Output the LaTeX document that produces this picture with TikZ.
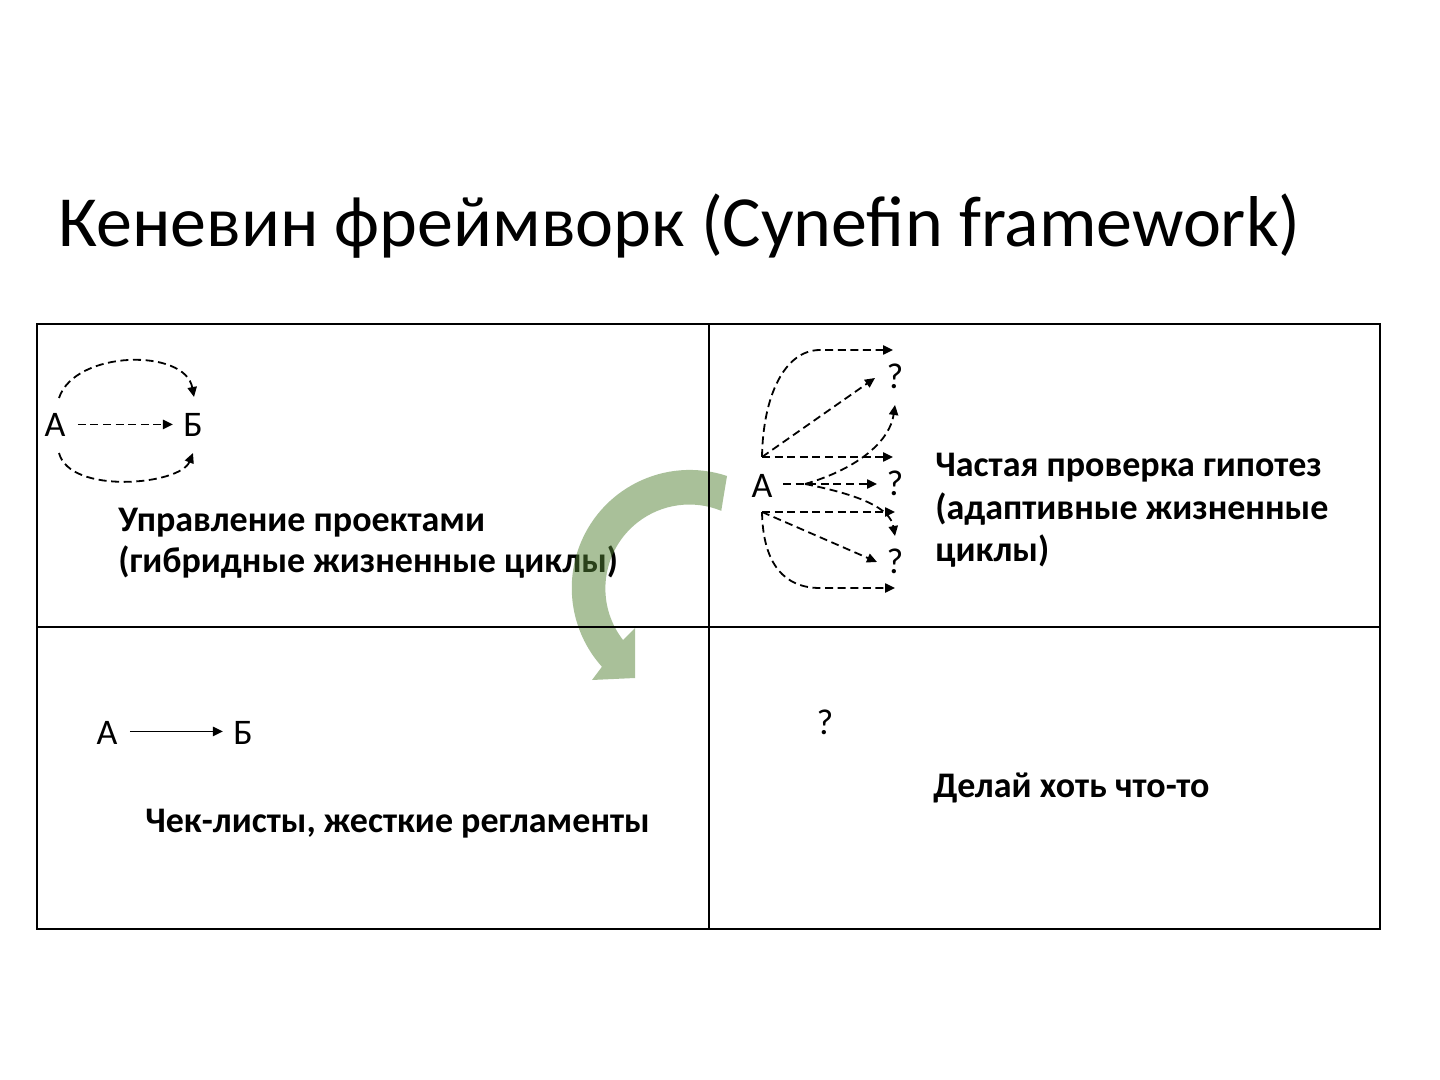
\documentclass[tikz,border=0pt]{standalone}
\usepackage{fontspec}
\setmainfont{Carlito}
\usetikzlibrary{arrows.meta}
\definecolor{cyngreen}{HTML}{548235}
\begin{document}
\begin{tikzpicture}[x=0.5pt,y=-0.5pt,
  lbl/.style={inner sep=0pt, font=\fontsize{18}{20}\selectfont, anchor=base},
  txt/.style={inner sep=0pt, font=\bfseries\fontsize{18}{22}\selectfont, anchor=base west},
  tip/.style={-{Triangle[length=5pt,width=4.6pt]}},
  dsh/.style={line width=0.9pt, dash pattern=on 4pt off 2.3pt, tip},
  sld/.style={line width=0.9pt, tip},
  gridline/.style={line width=1pt}]
\useasboundingbox (0,0) rectangle (1440,1080);
\fill[white] (0,0) rectangle (1440,1080);

% title
\node[inner sep=0pt, anchor=base west, font=\fontsize{36}{40}\selectfont] (title) at (58,247) {Кеневин фреймворк (Cynefin framework)};

% quadrant texts
\node[txt] (t1a) at (118,531) {Управление проектами};
\node[txt] (t1b) at (118,572) {(гибридные жизненные циклы)};
\node[txt] (t2a) at (935,476) {Частая проверка гипотез};
\node[txt] (t2b) at (935,519) {(адаптивные жизненные};
\node[txt] (t2c) at (935,561) {циклы)};
\node[txt] (t3) at (145,832) {Чек-листы, жесткие регламенты};
\node[txt] (t4) at (933,797) {Делай хоть что-то};

% top-left: complicated
\node[lbl] (a1) at (55,437) {А};
\node[lbl] (b1) at (193,437) {Б};
\coordinate (a1t) at (59,398);
\coordinate (a1b) at (59,453);
\coordinate (b1t) at (194,397);
\coordinate (b1b) at (193,453);
\draw[dsh] ([xshift=6pt,yshift=0.5pt]a1.east) -- ([xshift=-5pt,yshift=0.5pt]b1.west);
\draw[dsh] (a1t) .. controls (75,350) and (185,348) .. (b1t);
\draw[dsh] (a1b) .. controls (70,495) and (180,485) .. (b1b);

% top-right: complex
\node[lbl] (a2) at (762,497) {А};
\node[lbl] (q1) at (895,389) {?};
\node[lbl] (q2) at (895,495) {?};
\node[lbl] (q3) at (895,573) {?};
\coordinate (s1) at (762,457);
\coordinate (s2) at (783,484);
\coordinate (s2c) at (805,484);
\coordinate (s3) at (762,512);
\coordinate (e1) at (893,350);
\coordinate (e2) at (875,378);
\coordinate (e3) at (893,457);
\coordinate (e4) at (895,405);
\coordinate (e5) at (877,484);
\coordinate (e6) at (895,536);
\coordinate (e7) at (895,512);
\coordinate (e8) at (877,562);
\coordinate (e9) at (895,588);
\draw[dsh] (s1) .. controls (763,395) and (785,350) .. (820,350) -- (e1);
\draw[dsh] (s1) -- (e2);
\draw[dsh] (s1) -- (e3);
\draw[dsh] (s2c) .. controls (860,468) and (890,440) .. (e4);
\draw[dsh] (s2) -- (e5);
\draw[dsh] (s2c) .. controls (860,495) and (890,508) .. (e6);
\draw[dsh] (s3) -- (e7);
\draw[dsh] (s3) -- (e8);
\draw[dsh] (s3) .. controls (763,565) and (785,588) .. (820,588) -- (e9);

% bottom-left: simple
\node[lbl] (a3) at (107,744) {А};
\node[lbl] (b3) at (243,744) {Б};
\draw[sld] ([xshift=6pt,yshift=0.5pt]a3.east) -- ([xshift=-5pt,yshift=0.5pt]b3.west);

% bottom-right: chaotic
\node[lbl] (q4) at (825,734) {?};

% green circular arrow
\fill[cyngreen, opacity=0.5] (727,476) arc[start angle=-71.6, end angle=-221.9, radius=118]
  -- (592,680) -- (635,678) -- (635,628) -- (623,640)
  arc[start angle=-217.8, end angle=-67.7, radius=84] -- cycle;

% grid
\coordinate (g1) at (37,324);
\coordinate (g2) at (1380,929);
\draw[gridline] (g1) rectangle (g2);
\draw[gridline] (709,324) -- (709,929);
\draw[gridline] (37,627) -- (1380,627);
\end{tikzpicture}
\end{document}
